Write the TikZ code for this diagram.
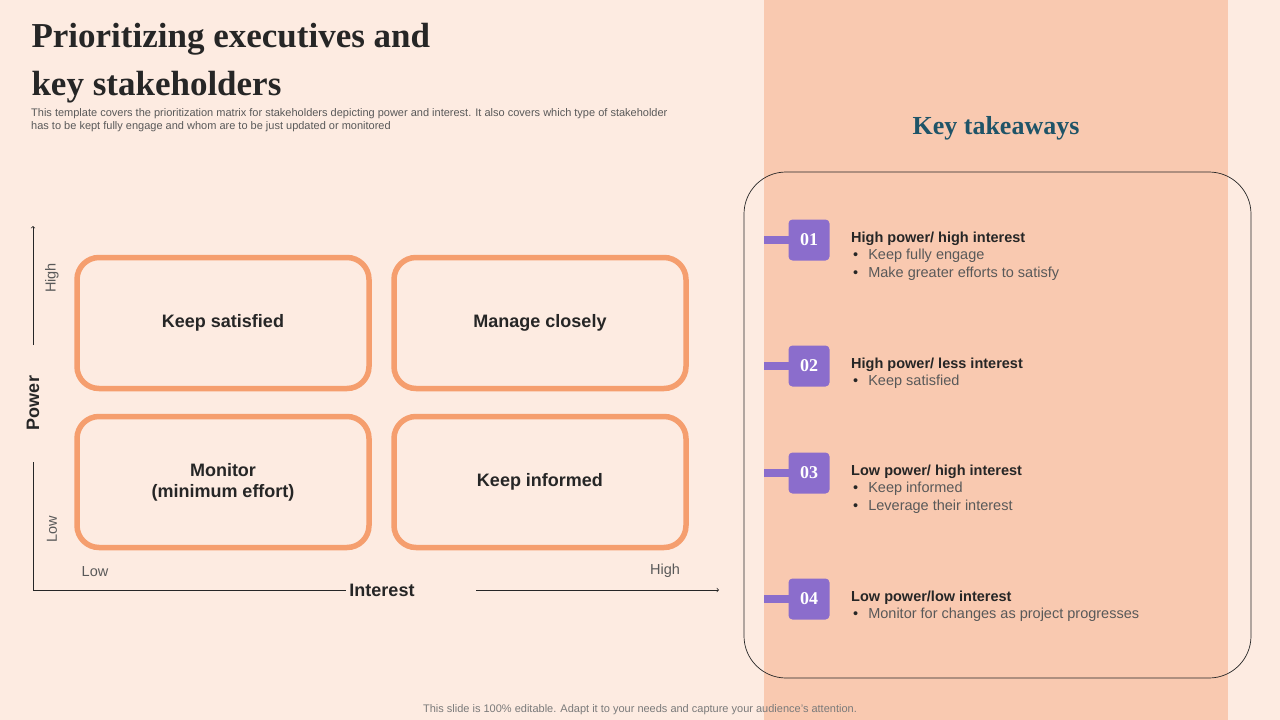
\documentclass[tikz,border=0pt]{standalone}
\usepackage{fontspec}
\setmainfont{Liberation Sans}
\newfontfamily\titlefont{Liberation Serif}
\usetikzlibrary{positioning}
\definecolor{bgpeach}{HTML}{FDEBE1}
\definecolor{panel}{HTML}{F9C9B0}
\definecolor{boxline}{HTML}{F59E6E}
\definecolor{badge}{HTML}{8B6DCC}
\definecolor{teal}{HTML}{1F5468}
\definecolor{txt}{HTML}{262626}
\definecolor{grey}{HTML}{595959}
\tikzset{
  quad/.style={draw=boxline, line width=5.5pt, rounded corners=22pt, minimum width=292pt, minimum height=131pt, align=center, font=\fontsize{18}{21}\selectfont\bfseries, text=txt},
  numbox/.style={fill=badge, rounded corners=4pt, minimum size=41pt, text=white, font=\titlefont\fontsize{18}{20}\selectfont\bfseries},
  takehead/.style={anchor=north west, align=left, text=txt, font=\fontsize{14.5}{17.5}\selectfont},
  axislbl/.style={text=grey, font=\fontsize{14.5}{16}\selectfont}
}
\newcommand{\bul}[1]{\\\hspace*{2pt}\textbullet\hspace{10pt}{\color{grey}#1}}
\begin{document}
\begin{tikzpicture}[x=1pt,y=-1pt]
\useasboundingbox (0,0) rectangle (1280,720);
\fill[bgpeach] (0,0) rectangle (1280,720);
\fill[panel] (764,0) rectangle (1228,720);

% title
\node[anchor=north west, align=left, text=txt, font=\titlefont\fontsize{35}{48}\selectfont\bfseries] (title) at (28,20) {Prioritizing executives and\\key stakeholders};
\node[anchor=north west, align=left, text=grey, font=\fontsize{11}{13}\selectfont, inner sep=0pt] (sub) at (31,108) {This template covers the prioritization matrix for stakeholders depicting power and interest. It also covers which type of stakeholder\\has to be kept fully engage and whom are to be just updated or monitored};

% matrix
\node[quad] (ks) at (223,323) {Keep satisfied};
\node[quad] (mc) at (540,323) {Manage closely};
\node[quad] (mo) at (223,482) {Monitor\\(minimum effort)};
\node[quad] (ki) at (540,482) {Keep informed};

% axes
\node[rotate=90, text=txt, font=\fontsize{18}{20}\selectfont\bfseries] (power) at (33,403) {Power};
\node[text=txt, font=\fontsize{18}{20}\selectfont\bfseries] (interest) at (382,590) {Interest};
\coordinate (orig) at (33,590);
\coordinate (ytop) at (33,226);
\coordinate (xend) at (719,590);
\draw[txt, line width=0.7pt, ->] (power.east |- 0,345) -- (ytop);
\draw[txt, line width=0.7pt] (orig) -- (33,462);
\draw[txt, line width=0.7pt] (orig) -- (interest.west);
\draw[txt, line width=0.7pt, ->] (interest.east) ++(58,0) -- (xend);
\node[axislbl, rotate=90] (phigh) at (52,278) {High};
\node[axislbl, rotate=90] (plow) at (52,529) {Low};
\node[axislbl] (ilow) at (95,572) {Low};
\node[axislbl] (ihigh) at (665,571) {High};

% takeaways
\node[text=teal, font=\titlefont\fontsize{26}{30}\selectfont\bfseries] (keyt) at (996,128) {Key takeaways};
\draw[txt, line width=0.7pt, rounded corners=42pt] (744,172) rectangle (1251,678);

\foreach \n/\y in {01/240, 02/366, 03/473, 04/599} {
  \fill[badge] (764,\y-4) rectangle (792,\y+4);
  \node[numbox] (b\n) at (809,\y) {\n};
}
\node[takehead] (t1) at ([xshift=18pt,yshift=-9pt]b01.north east) {\textbf{High power/ high interest}\bul{Keep fully engage}\bul{Make greater efforts to satisfy}};
\node[takehead] (t2) at ([xshift=18pt,yshift=-9pt]b02.north east) {\textbf{High power/ less interest}\bul{Keep satisfied}};
\node[takehead] (t3) at ([xshift=18pt,yshift=-9pt]b03.north east) {\textbf{Low power/ high interest}\bul{Keep informed}\bul{Leverage their interest}};
\node[takehead] (t4) at ([xshift=18pt,yshift=-9pt]b04.north east) {\textbf{Low power/low interest}\bul{Monitor for changes as project progresses}};

\node[text=grey!80, font=\fontsize{11}{13}\selectfont] (foot) at (640,710) {This slide is 100\% editable. Adapt it to your needs and capture your audience's attention.};
\end{tikzpicture}
\end{document}
